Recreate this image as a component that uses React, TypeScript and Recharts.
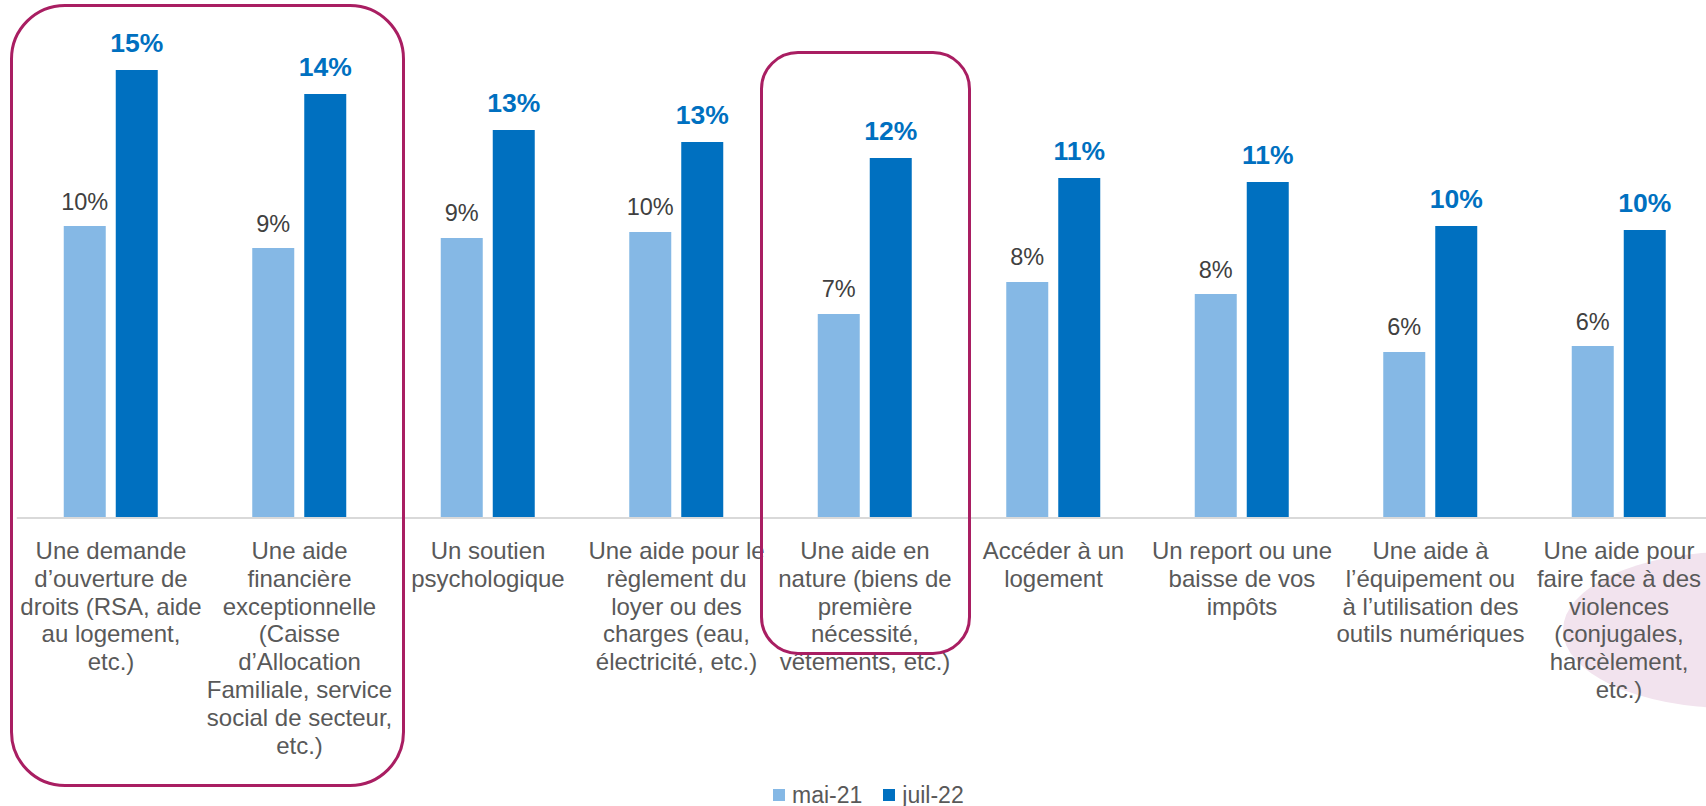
import React from 'react';
import { BarChart, Bar, XAxis, YAxis, Legend, LabelList } from 'recharts';

const FONT = "Arial, 'Liberation Sans', sans-serif";

// categories (line breaks as in the source slide)
const categories = [
  'Une demande\nd’ouverture de\ndroits (RSA, aide\nau logement,\netc.)',
  'Une aide\nfinancière\nexceptionnelle\n(Caisse\nd’Allocation\nFamiliale, service\nsocial de secteur,\netc.)',
  'Un soutien\npsychologique',
  'Une aide pour le\nrèglement du\nloyer ou des\ncharges (eau,\nélectricité, etc.)',
  'Une aide en\nnature (biens de\npremière\nnécessité,\nvêtements, etc.)',
  'Accéder à un\nlogement',
  'Un report ou une\nbaisse de vos\nimpôts',
  'Une aide à\nl’équipement ou\nà l’utilisation des\noutils numériques',
  'Une aide pour\nfaire face à des\nviolences\n(conjugales,\nharcèlement,\netc.)',
];

// values in %
const mai21 = [9.83, 9.09, 9.43, 9.63, 6.87, 7.95, 7.54, 5.59, 5.79];
const juil22 = [15.08, 14.28, 13.06, 12.66, 12.12, 11.45, 11.31, 9.83, 9.7];

const seriesNames = ['mai-21', 'juil-22'];
const LIGHT = '#85B8E5';
const DARK = '#0070C0';

const data = categories.map((c, i) => ({ category: c, mai21: mai21[i], juil22: juil22[i] }));

function CategoryTick(props: any) {
  const { x, y, payload } = props;
  const lines = String(payload.value).split('\n');
  return (
    <text x={x} y={y} textAnchor="middle" fill="#595959" fontSize={24} fontFamily={FONT}>
      {lines.map((l, i) => (
        <tspan key={i} x={x} dy={i === 0 ? 41 : 27.8}>
          {l}
        </tspan>
      ))}
    </text>
  );
}

const makeLabel = (color: string, size: number, weight: string, gap: number) => (props: any) => {
  const { x, y, width, value } = props;
  return (
    <text
      x={Number(x) + Number(width) / 2}
      y={Number(y) - gap}
      textAnchor="middle"
      fill={color}
      fontSize={size}
      fontWeight={weight}
      fontFamily={FONT}
    >
      {Math.round(Number(value))}%
    </text>
  );
};

function LegendContent() {
  const items = [
    { name: seriesNames[0], color: LIGHT },
    { name: seriesNames[1], color: DARK },
  ];
  return (
    <div style={{ display: 'flex', alignItems: 'center', paddingLeft: 773, height: 23 }}>
      {items.map((it, i) => (
        <div key={it.name} style={{ display: 'flex', alignItems: 'center', marginRight: i === 0 ? 21 : 0 }}>
          <span style={{ width: 12, height: 12, background: it.color, display: 'inline-block', marginRight: 7 }} />
          <span style={{ fontFamily: FONT, fontSize: 23, lineHeight: '23px', color: '#595959' }}>{it.name}</span>
        </div>
      ))}
    </div>
  );
}

export default function App() {
  return (
    <div
      style={{
        position: 'absolute',
        left: 0,
        top: 0,
        width: 1706,
        height: 806,
        overflow: 'hidden',
        background: '#fff',
      }}
    >
      {/* decorative pink shape, bottom right (mostly off the slide) */}
      <div
        style={{
          position: 'absolute',
          left: 1563,
          top: 552,
          width: 334,
          height: 156,
          borderRadius: '50%',
          background: '#F2E3EE',
        }}
      />
      <div style={{ position: 'absolute', left: 0, top: 0 }}>
        <BarChart
          width={1713.25}
          height={806}
          data={data}
          margin={{ top: 42.8, right: 0, left: 16.75, bottom: 0 }}
          barSize={42}
          barGap={10}
        >
          <XAxis
            dataKey="category"
            interval={0}
            tickLine={false}
            tickSize={0}
            tickMargin={0}
            height={288}
            axisLine={{ stroke: '#D9D9D9', strokeWidth: 2 }}
            tick={(p: any) => <CategoryTick {...p} />}
          />
          <YAxis hide domain={[0, 16]} />
          <Bar dataKey="mai21" name={seriesNames[0]} fill={LIGHT} isAnimationActive={false}>
            <LabelList dataKey="mai21" content={makeLabel('#404040', 23.5, 'normal', 16.5)} />
          </Bar>
          <Bar dataKey="juil22" name={seriesNames[1]} fill={DARK} isAnimationActive={false}>
            <LabelList dataKey="juil22" content={makeLabel(DARK, 26.5, 'bold', 18)} />
          </Bar>
          <Legend
            layout="horizontal"
            verticalAlign="middle"
            align="center"
            wrapperStyle={{ top: 783.5, left: 0, width: 1706 }}
            content={() => <LegendContent />}
          />
        </BarChart>
      </div>
      {/* highlight frames */}
      <div
        style={{
          position: 'absolute',
          left: 9.5,
          top: 3.5,
          width: 395,
          height: 783,
          border: '3px solid #A91E62',
          borderRadius: 55,
          boxSizing: 'border-box',
        }}
      />
      <div
        style={{
          position: 'absolute',
          left: 759.5,
          top: 50.5,
          width: 211,
          height: 604,
          border: '3px solid #A91E62',
          borderRadius: 38,
          boxSizing: 'border-box',
        }}
      />
    </div>
  );
}
